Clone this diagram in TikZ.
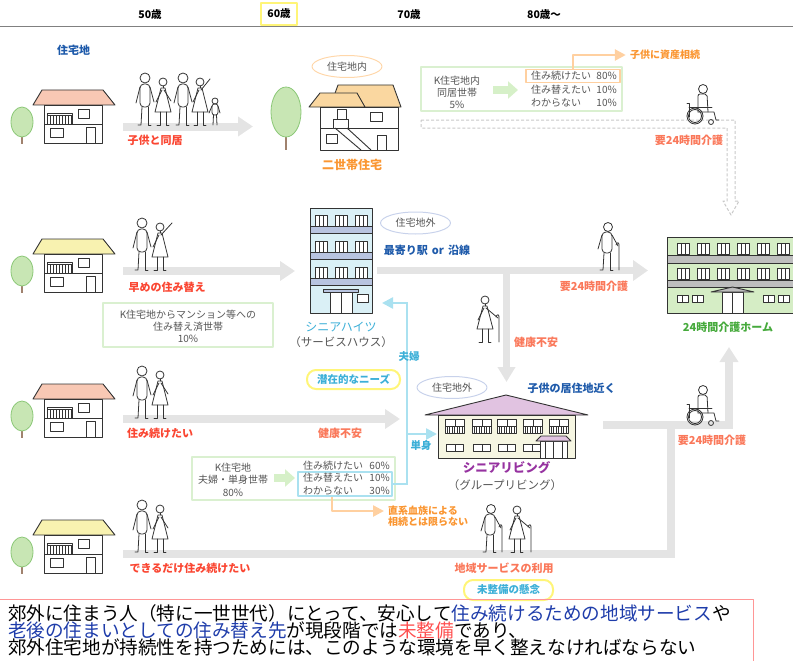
\documentclass[tikz,border=0pt]{standalone}
\usepackage{fontspec}
\setmainfont{Noto Sans CJK JP}
\usetikzlibrary{arrows.meta,shapes.geometric}

\definecolor{ink}{RGB}{51,51,51}
\definecolor{txtgray}{RGB}{85,85,85}
\definecolor{jpblue}{RGB}{30,90,170}
\definecolor{jpred}{RGB}{250,70,50}
\definecolor{salmon}{RGB}{250,120,90}
\definecolor{jporange}{RGB}{250,150,50}
\definecolor{jpcyan}{RGB}{60,175,215}
\definecolor{jppurple}{RGB}{150,50,160}
\definecolor{jpgreen}{RGB}{70,170,60}
\definecolor{band}{RGB}{228,228,228}
\definecolor{boxgreen}{RGB}{218,240,208}
\definecolor{arrowgreen}{RGB}{214,240,200}
\definecolor{conorange}{RGB}{255,208,160}
\definecolor{conblue}{RGB}{170,225,240}
\definecolor{hiyellow}{RGB}{255,245,120}
\definecolor{notepink}{RGB}{255,150,150}
\definecolor{leaf}{RGB}{200,230,180}
\definecolor{leafline}{RGB}{140,200,120}
\definecolor{bark}{RGB}{160,130,110}
\definecolor{roofpink}{RGB}{248,200,180}
\definecolor{roofyellow}{RGB}{248,242,176}
\definecolor{rooforange}{RGB}{250,215,160}
\definecolor{hallblue}{RGB}{218,240,246}
\definecolor{hallband}{RGB}{184,196,224}
\definecolor{homegreen}{RGB}{213,237,197}
\definecolor{homeband}{RGB}{190,190,190}
\definecolor{roofviolet}{RGB}{225,195,225}
\definecolor{cream}{RGB}{246,246,226}
\definecolor{ovalblue}{RGB}{200,210,235}
\definecolor{ovalorange}{RGB}{255,215,170}
\definecolor{deepblue}{RGB}{30,60,170}
\definecolor{deepred}{RGB}{255,80,80}
\definecolor{dashgray}{RGB}{200,200,200}

\tikzset{
  fig/.style={draw=ink, line width=0.8pt, line cap=round, line join=round},
  lineart/.style={draw=ink, line width=0.9pt},
  lbl/.style={inner sep=0pt, font=\fontsize{11}{13}\selectfont\bfseries},
  note/.style={inner sep=0pt, text=txtgray, font=\fontsize{10}{12}\selectfont},
  age/.style={inner sep=0pt, font=\fontsize{10.5}{12}\selectfont\bfseries},
  wayband/.style={draw=band, line width=8pt},
  wayarrow/.style={wayband, -{Triangle[width=19pt,length=15pt]}},
  greenarrow/.style={draw=arrowgreen, line width=8pt, -{Triangle[width=17pt,length=10pt]}},
  orangecon/.style={draw=conorange, line width=2.5pt, -{Triangle[width=11pt,length=11pt]}},
  bluecon/.style={draw=conblue, line width=2.5pt, -{Triangle[width=11pt,length=11pt]}},
  statbox/.style={draw=boxgreen, line width=2pt, inner sep=0pt},
  oval/.style={ellipse, line width=1pt, inner sep=0pt, minimum width=70pt,
    minimum height=22pt, text=txtgray, font=\fontsize{10}{12}\selectfont},
  capsule/.style={draw=hiyellow, line width=2pt, rounded corners=9pt, inner sep=0pt,
    text=jpcyan, font=\fontsize{10.5}{12}\selectfont\bfseries},
  % detached house, origin at the bottom-left corner of the walls
  pics/house/.style={code={
    \draw[lineart, fill=#1] (-11,-38) -- (-2,-53) -- (59,-53) -- (71,-38) -- cycle;
    \draw[lineart, fill=white] (0,0) rectangle (58,-38);
    \draw[lineart] (0,-19) -- (58,-19);
    \draw[lineart] (3,-30) rectangle (28,-19);
    \foreach \b in {6,9,...,27} \draw[draw=ink, line width=0.7pt] (\b,-28) -- (\b,-19);
    \draw[lineart] (3,-28) -- (28,-28);
    \draw[lineart] (34,-34) rectangle (45,-25);
    \draw[lineart] (6,-15) rectangle (19,-6);
    \draw[lineart] (42,-16) rectangle (51,0);
  }},
  % tree, origin at the foot of the trunk
  pics/tree/.style={code={
    \draw[draw=bark, line width=2.5pt] (0,-9) -- (0,0);
    \draw[draw=leafline, fill=leaf, line width=0.8pt] (0,-22) ellipse [x radius=11pt, y radius=15pt];
  }},
  % standing man, origin between the feet
  pics/man/.style={code={
    \draw[fig] (0,-47) circle[radius=5pt];
    \draw[fig, rounded corners=4pt] (-5,-41) rectangle (5,-18);
    \draw[fig] (-3,-18) -- (-4,0) -- (-7,0);
    \draw[fig] (3,-18) -- (3,0) -- (6,0);
    \draw[fig] (-5,-38) -- (-9,-22);
    \draw[fig] (5,-38) -- (9,-23);
  }},
  % standing woman; the argument is the end of her right arm
  pics/woman/.style={code={
    \draw[fig] (0,-43) circle[radius=4pt];
    \draw[fig] (0,-39) -- (0,-37);
    \draw[fig] (-2,-37) -- (2,-37) -- (8,-13) -- (-8,-13) -- cycle;
    \draw[fig] (-3,-13) -- (-3,0) -- (-6,0);
    \draw[fig] (3,-13) -- (3,0) -- (6,0);
    \draw[fig] (-1,-35) -- (-7,-23);
    \draw[fig] (1,-35) -- (#1);
  }},
  % elderly man with a cane
  pics/elderman/.style={code={
    \draw[fig] (1,-43) circle[radius=4.5pt];
    \draw[fig, rounded corners=4pt] (-5,-38) rectangle (5,-17);
    \draw[fig] (-3,-17) -- (-4,0) -- (-7,0);
    \draw[fig] (3,-17) -- (3,0) -- (6,0);
    \draw[fig] (-5,-35) -- (-9,-21);
    \draw[fig] (5,-35) -- (11,-24);
    \draw[fig] (9,-25) .. controls (10,-28) and (12,-28) .. (12,-25) -- (12,0);
  }},
  % elderly woman with a cane
  pics/elderwoman/.style={code={
    \draw[fig] (0,-42) circle[radius=4pt];
    \draw[fig] (0,-38) -- (0,-36);
    \draw[fig] (-2,-36) -- (2,-36) -- (8,-13) -- (-8,-13) -- cycle;
    \draw[fig] (-3,-13) -- (-3,0) -- (-6,0);
    \draw[fig] (3,-13) -- (3,0) -- (6,0);
    \draw[fig] (-1,-34) -- (-7,-22);
    \draw[fig] (1,-34) -- (13,-24);
    \draw[fig] (11,-25) .. controls (12,-28) and (14,-28) .. (14,-25) -- (14,0);
  }},
  % person in a wheelchair, origin at the hub of the large wheel
  pics/wheelchair/.style={code={
    \draw[fig] (0,0) circle[radius=8pt];
    \draw[fig] (0,0) circle[radius=6.5pt];
    \draw[fig] (16,6) circle[radius=2.5pt];
    \draw[fig] (-8,-13) -- (-6,-13) -- (-6,1);
    \draw[fig] (-6,-9) -- (17,-9);
    \draw[fig] (8,-27) circle[radius=4.5pt];
    \draw[fig, rounded corners=2pt] (3,-4) -- (3,-22) -- (12,-22) -- (13,-4);
    \draw[fig] (3,-4) -- (19,-4) -- (21,4) -- (24,4);
  }},
}

\begin{document}
\begin{tikzpicture}[x=1pt, y=-1pt, line join=round]
\useasboundingbox (0,0) rectangle (793,661);

% ---------- age scale ----------
\node[age] (a50) at (150,15) {50歳};
\node[age, draw=hiyellow, line width=1.5pt, minimum width=36pt, minimum height=22pt] (a60) at (279,14) {60歳};
\node[age] (a70) at (409,15) {70歳};
\node[age] (a80) at (544,15) {80歳〜};
\draw[draw=gray, line width=1pt] (0,27) -- (793,27);

% ---------- flow bands ----------
\coordinate (r1a) at (123,126.5);  \coordinate (r1b) at (253,126.5);
\coordinate (r2a) at (123,271);    \coordinate (r2b) at (295,271);
\coordinate (r2c) at (377,270.5);  \coordinate (r2d) at (648,270.5);
\coordinate (r2e) at (506.5,270.5);\coordinate (r2f) at (506.5,382);
\coordinate (r3a) at (123,419);    \coordinate (r3b) at (400,419);
\coordinate (r4a) at (123,553.5);  \coordinate (r4b) at (671,553.5);
\coordinate (r4c) at (671,425);
\coordinate (r5a) at (603,425);    \coordinate (r5b) at (729,425);
\coordinate (r5c) at (729,347);
\draw[wayarrow] (r1a) -- (r1b);
\draw[wayarrow] (r2a) -- (r2b);
\draw[wayarrow, line width=7.5pt, -{Triangle[width=20pt,length=15pt]}] (r2c) -- (r2d);
\draw[wayarrow, line width=7.5pt, -{Triangle[width=17pt,length=15pt]}] (r2e) -- (r2f);
\draw[wayarrow] (r3a) -- (r3b);
\draw[wayband, line join=miter] (r4a) -- (r4b) -- (r4c);
\draw[wayarrow, line join=miter, -{Triangle[width=18pt,length=15pt]}] (r5a) -- (r5b) -- (r5c);

% dashed hollow arrow towards the care home
\draw[draw=dashgray, line width=1pt, dash pattern=on 3pt off 2pt]
  (421,120) -- (735,120) -- (735,201) -- (739,201) -- (731,215) -- (723,201)
  -- (727,201) -- (727,128) -- (421,128) -- cycle;

% ---------- houses and trees on the left ----------
\pic at (22,144) {tree};
\pic at (44,143) {house=roofpink};
\pic at (22,293) {tree};
\pic at (44,292) {house=roofyellow};
\pic at (22,438) {tree};
\pic at (44,437) {house=roofpink};
\pic at (22,574) {tree};
\pic at (44,573) {house=roofyellow};

% ---------- row 1: living with children ----------
\node[lbl, text=jpblue] (zone) at (73.5,50) {住宅地};
\pic at (145,125) {man};
\pic at (163,125) {woman={8,-24}};
\pic at (183,125) {man};
\pic at (200,125) {woman={10,-46}};
\draw[fig] (215,101) circle[radius=3pt];
\draw[fig, rounded corners=2.5pt] (212,104) rectangle (218,115);
\draw[fig] (213.5,115) -- (213,125) (216.5,115) -- (217,125);
\draw[fig] (212,106) -- (209,113) (218,106) -- (220,113);
\node[lbl, text=jpred] (l1) at (155,140) {子供と同居};

% second tree and two-generation house
\draw[draw=bark, line width=2.5pt] (286,136) -- (286,150);
\draw[draw=leafline, fill=leaf, line width=0.8pt] (286,112) ellipse [x radius=15pt, y radius=25pt];
\draw[lineart, fill=rooforange] (330,107) -- (338,85) -- (393,85) -- (401,107) -- cycle;
\draw[lineart, fill=rooforange] (309,107) -- (320,93) -- (357,93) -- (365,107) -- cycle;
\node[lineart, fill=white, minimum width=78pt, minimum height=43pt, inner sep=0] (twogen) at (359,128.5) {};
\draw[lineart] (337,109) rectangle (346,119);
\draw[lineart] (333,119) rectangle (348,128);
\draw[lineart] (320,128) -- (333,128) (348,128) -- (398,128);
\draw[lineart] (335,128) -- (361,150) (347,128) -- (371,150);
\draw[lineart] (370,112) rectangle (382,121);
\draw[lineart] (326,134) rectangle (337,143);
\draw[lineart] (377,135) rectangle (386,150);
\node[oval, draw=ovalorange] (inside) at (347,66.5) {住宅地内};
\node[lbl, text=jporange, font=\fontsize{12}{14}\selectfont\bfseries] (twogenlbl) at (352,165) {二世帯住宅};

% survey of households living in the estate
\node[statbox, minimum width=201pt, minimum height=44pt] (gb1) at (521.5,89) {};
\node[note, align=center] (gb1l) at (457,92) {K住宅地内\\同居世帯\\5\%};
\coordinate (ga1s) at (493,90); \coordinate (ga1e) at (518,90);
\draw[greenarrow] (ga1s) -- (ga1e);
\node[draw=conorange, line width=1.5pt, minimum width=94pt, minimum height=13pt, inner sep=0] (stay80) at (573,76) {};
\node[note, anchor=west] (s1a) at (531,76) {住み続けたい};
\node[note, anchor=east] (s1p) at (617,76) {80\%};
\node[note, anchor=west] (s1b) at (531,89.5) {住み替えたい};
\node[note, anchor=east] (s1q) at (617,89.5) {10\%};
\node[note, anchor=west] (s1c) at (531,102.5) {わからない};
\node[note, anchor=east] (s1r) at (617,102.5) {10\%};
\node[lbl, text=jporange, font=\fontsize{10}{12}\selectfont\bfseries] (inherit) at (665,55) {子供に資産相続};
\draw[orangecon] (stay80.north) |- ([xshift=-4pt]inherit.west);

\pic at (695,116) {wheelchair};
\node[lbl, text=salmon] (care1) at (689,140) {要24時間介護};

% ---------- row 2: early move ----------
\pic at (142,270) {man};
\pic at (160,270) {woman={12,-47}};
\node[lbl, text=jpred] (l2) at (167,287) {早めの住み替え};
\node[statbox, minimum width=170pt, minimum height=44pt] (gb2) at (188,325) {};
\node[note, align=center] (gb2l) at (188,326) {K住宅地からマンション等への\\住み替え済世帯\\10\%};

% senior heights
\node[lineart, fill=hallblue, minimum width=62pt, minimum height=105pt, inner sep=0] (heights) at (341,260.5) {};
\foreach \yy in {226,252,278} \draw[lineart, fill=hallband] (310,\yy) rectangle (372,\yy+7);
\foreach \yy in {215,241,267} \foreach \xx in {315,335,355} {
  \draw[lineart, fill=white] (\xx,\yy) rectangle (\xx+12,\yy+11);
  \draw[lineart] (\xx+4,\yy) -- (\xx+4,\yy+11) (\xx+8,\yy) -- (\xx+8,\yy+11);
}
\draw[lineart, fill=hallband] (323,289) rectangle (358,292);
\draw[lineart, fill=white] (330,292) rectangle (352,313);
\draw[lineart] (341,292) -- (341,313);
\draw[lineart, fill=white] (357,294) rectangle (368,302);
\node[lbl, text=jpcyan, font=\fontsize{12}{14}\selectfont] (heightslbl) at (341,327) {シニアハイツ};
\node[inner sep=0, text=txtgray, font=\fontsize{11.5}{13}\selectfont] (heightssub) at (341,342) {（サービスハウス）};

\node[oval, draw=ovalblue] (outside1) at (415.5,223) {住宅地外};
\node[lbl, text=jpblue] (station) at (427,250) {最寄り駅\hspace{4pt}or\hspace{4pt}沿線};
\pic at (607,270) {elderman};
\node[lbl, text=salmon] (care2) at (594,286) {要24時間介護};
\pic at (485,342) {elderwoman};
\node[lbl, text=salmon] (worry1) at (536,342) {健康不安};

% 24-hour care home
\node[lineart, fill=homegreen, minimum width=126pt, minimum height=76pt, inner sep=0] (home) at (730,275) {};
\draw[lineart, fill=homeband] (667,255) rectangle (793,263);
\draw[lineart, fill=homeband] (667,280) rectangle (793,287);
\foreach \yy in {243,268} \foreach \xx in {677,697,...,777} {
  \draw[lineart, fill=white] (\xx,\yy) rectangle (\xx+12,\yy+11);
  \draw[lineart] (\xx+4,\yy) -- (\xx+4,\yy+11) (\xx+8,\yy) -- (\xx+8,\yy+11);
}
\foreach \xx in {677,692,763,778} {
  \draw[lineart, fill=white] (\xx,295) rectangle (\xx+11,302);
  \draw[lineart] (\xx+5.5,295) -- (\xx+5.5,302);
}
\draw[lineart, fill=white] (722,292) rectangle (743,313);
\draw[lineart] (732.5,292) -- (732.5,313);
\draw[lineart, fill=homeband] (711,292) -- (732.5,287) -- (754,292) -- cycle;
\node[lbl, text=jpgreen] (homelbl) at (728,327) {24時間介護ホーム};

% ---------- row 3: staying on ----------
\pic at (142,418) {man};
\pic at (160,418) {woman={8,-24}};
\node[lbl, text=jpred] (l3) at (160,433) {住み続けたい};
\node[lbl, text=salmon] (worry2) at (340,433) {健康不安};
\node[capsule, minimum width=93pt, minimum height=19pt] (latent) at (353.5,379.5) {潜在的なニーズ};

\node[statbox, minimum width=203pt, minimum height=43pt] (gb3) at (293.5,478.5) {};
\node[note, align=center, font=\fontsize{10}{12.5}\selectfont] (gb3l) at (233,479.5) {K住宅地\\夫婦・単身世帯\\80\%};
\coordinate (ga3s) at (274,478); \coordinate (ga3e) at (295,478);
\draw[greenarrow] (ga3s) -- (ga3e);
\node[draw=conblue, line width=1.5pt, minimum width=94pt, minimum height=24pt, inner sep=0] (move3) at (345,484) {};
\node[note, anchor=west] (s3a) at (303,465.5) {住み続けたい};
\node[note, anchor=east] (s3p) at (390,465.5) {60\%};
\node[note, anchor=west] (s3b) at (303,478) {住み替えたい};
\node[note, anchor=east] (s3q) at (390,478) {10\%};
\node[note, anchor=west] (s3c) at (303,490.5) {わからない};
\node[note, anchor=east] (s3r) at (390,490.5) {30\%};

\node[lbl, text=jporange, font=\fontsize{10}{12}\selectfont\bfseries, anchor=west] (lineal1) at (388,511) {直系血族による};
\node[lbl, text=jporange, font=\fontsize{10}{12}\selectfont\bfseries, anchor=west] (lineal2) at (388,522) {相続とは限らない};
\draw[orangecon] ([xshift=-13pt]move3.south) |- ([xshift=-4pt]lineal1.west);

% routes towards the senior housing
\coordinate (spinetop) at (407,303);
\coordinate (toheights) at (382,303);
\coordinate (spinemid) at (407,434);
\coordinate (toliving) at (437,434);
\draw[bluecon, line join=miter] (move3.east) -| (spinetop) -- (toheights);
\draw[bluecon] (spinemid) -- (toliving);
\node[lbl, text=jpcyan, font=\fontsize{10.5}{12}\selectfont\bfseries] (couple) at (409,357) {夫婦};
\node[lbl, text=jpcyan, font=\fontsize{10.5}{12}\selectfont\bfseries] (single) at (421,445) {単身};

% senior living
\node[oval, draw=ovalblue] (outside2) at (452,387.5) {住宅地外};
\node[lbl, text=jpblue] (nearkids) at (571.5,388) {子供の居住地近く};
\draw[lineart, fill=roofviolet] (425,415) -- (506,395) -- (588,415) -- cycle;
\node[lineart, fill=cream, minimum width=137pt, minimum height=43pt, inner sep=0] (living) at (506.5,436.5) {};
\foreach \cx in {455,482,507,533,559} {
  \draw[lineart, fill=white] (\cx-9.5,419) rectangle (\cx+9.5,433);
  \draw[lineart] (\cx,419) -- (\cx,426) (\cx-9.5,426) -- (\cx+9.5,426);
  \foreach \bb in {-8,-5.5,...,8.5} \draw[draw=ink, line width=0.8pt] (\cx+\bb,426) -- (\cx+\bb,433);
}
\foreach \cx in {455,482,507,532} {
  \draw[lineart, fill=white] (\cx-8.5,444) rectangle (\cx+8.5,451);
  \draw[lineart] (\cx,444) -- (\cx,451);
}
\draw[lineart, fill=white] (540,441) rectangle (567,458);
\draw[lineart] (545,441) -- (545,458) (553.5,441) -- (553.5,458) (562,441) -- (562,458);
\draw[lineart, fill=roofviolet] (536,441) -- (541,436) -- (566,436) -- (571,441) -- cycle;
\node[lbl, text=jppurple, font=\fontsize{12.5}{14}\selectfont\bfseries] (livinglbl) at (506.5,468) {シニアリビング};
\node[inner sep=0, text=txtgray, font=\fontsize{11.5}{13}\selectfont] (livingsub) at (505,485) {（グループリビング）};

\pic at (695,417) {wheelchair};
\node[lbl, text=salmon] (care3) at (712,440) {要24時間介護};

% ---------- row 4: staying as long as possible ----------
\pic at (142,552) {man};
\pic at (160,552) {woman={8,-24}};
\node[lbl, text=jpred] (l4) at (190,568) {できるだけ住み続けたい};
\pic at (490,552) {elderman};
\pic at (517,552) {elderwoman};
\node[lbl, text=salmon] (local) at (504,568) {地域サービスの利用};
\node[capsule, minimum width=89pt, minimum height=20pt] (unmet) at (508.5,590) {未整備の懸念};

% ---------- conclusion ----------
\draw[draw=notepink, line width=1pt] (-1,599) rectangle (753,663);
\node[anchor=west, inner sep=0, font=\fontsize{18.6}{20}\selectfont] (n1) at (8,613)
  {郊外に住まう人（特に一世世代）にとって、安心して\textcolor{deepblue}{住み続けるための地域サービス}や};
\node[anchor=west, inner sep=0, font=\fontsize{18.6}{20}\selectfont] (n2) at (8,630)
  {\textcolor{deepblue}{老後の住まいとしての住み替え先}が現段階では\textcolor{deepred}{未整備}であり、};
\node[anchor=west, inner sep=0, font=\fontsize{18.6}{20}\selectfont] (n3) at (8,647)
  {郊外住宅地が持続性を持つためには、このような環境を早く整えなければならない};
\end{tikzpicture}
\end{document}
